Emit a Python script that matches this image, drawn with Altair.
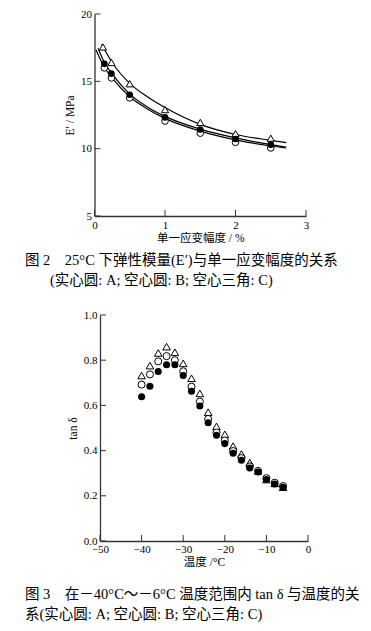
import altair as alt
import pandas as pd

# ---------------- Figure 2 : E' vs strain amplitude ----------------
strain_A = [0.14, 0.24, 0.5, 1.0, 1.5, 2.0, 2.5]
E_A = [16.3, 15.57, 14.0, 12.32, 11.42, 10.72, 10.3]
strain_B = [0.14, 0.24, 0.5, 1.0, 1.5, 2.0, 2.5]
E_B = [16.0, 15.25, 13.77, 12.05, 11.15, 10.47, 10.05]
strain_C = [0.12, 0.24, 0.5, 1.0, 1.5, 2.0, 2.5]
E_C = [17.55, 16.4, 14.82, 12.9, 11.95, 11.12, 10.78]

# fitted curves
curve_A_x = [0.05, 0.14, 0.25, 0.5, 0.75, 1.0, 1.5, 2.0, 2.5, 2.72]
curve_A_y = [17.45, 16.4, 15.55, 14.05, 13.1, 12.4, 11.45, 10.8, 10.3, 10.12]
curve_B_x = [0.02, 0.14, 0.25, 0.5, 0.75, 1.0, 1.5, 2.0, 2.5, 2.72]
curve_B_y = [17.35, 16.05, 15.25, 13.85, 12.95, 12.25, 11.3, 10.65, 10.2, 10.05]
curve_C_x = [0.10, 0.25, 0.5, 0.75, 1.0, 1.5, 2.0, 2.5, 2.72]
curve_C_y = [17.75, 16.4, 14.85, 13.85, 13.05, 11.8, 11.05, 10.62, 10.45]

x1_ticks = [0, 1, 2, 3]
y1_ticks = [5, 10, 15, 20]

# ---------------- Figure 3 : tan delta vs temperature ----------------
temp = [-40, -38, -36, -34, -32, -30, -28, -26, -24, -22, -20, -18, -16, -14, -12, -10, -8, -6]
tan_A = [0.638, 0.685, 0.750, 0.780, 0.780, 0.732, 0.663, 0.597, 0.523, 0.468, 0.431, 0.388,
         0.357, 0.323, 0.305, 0.272, 0.252, 0.238]
tan_B = [0.692, 0.737, 0.795, 0.818, 0.800, 0.751, 0.683, 0.617, 0.540, 0.480, 0.445, 0.398,
         0.367, 0.330, 0.310, 0.278, 0.258, 0.243]
tan_C = [0.732, 0.776, 0.832, 0.860, 0.835, 0.786, 0.720, 0.653, 0.570, 0.507, 0.472, 0.420,
         0.385, 0.347, 0.310, 0.272, 0.255, 0.238]

x2_ticks = [-50, -40, -30, -20, -10, 0]
y2_ticks = [0.0, 0.2, 0.4, 0.6, 0.8, 1.0]

cap2_line1 = "图 2　25°C 下弹性模量(E′)与单一应变幅度的关系"
cap2_line2 = "(实心圆: A; 空心圆: B; 空心三角: C)"
cap3_line1 = "图 3　在－40°C～－6°C 温度范围内 tan δ 与温度的关"
cap3_line2 = "系(实心圆: A; 空心圆: B; 空心三角: C)"

FONT = "Liberation Serif, Noto Sans CJK SC"
SHIFT = 5.5          # figure 2 sits a little left of figure 3
W1, H1 = 206, 202
W2, H2 = 208, 226
TICK = 6
CAP = 14.5

# ---------- build figure 2 ----------
X1 = alt.X("x:Q", scale=alt.Scale(domain=[0, 3], nice=False, zero=False, range=[-SHIFT, W1]),
           axis=alt.Axis(values=x1_ticks, title="单一应变幅度 / %", labelFlush=False,
                         labelPadding=3, titlePadding=2))
Y1 = alt.Y("y:Q", scale=alt.Scale(domain=[5, 20], nice=False, zero=False),
           axis=alt.Axis(values=y1_ticks, title="E′ / MPa", labelPadding=3, titlePadding=5,
                         offset=SHIFT))

curves = pd.concat([
    pd.DataFrame({"x": curve_A_x, "y": curve_A_y, "s": "A"}),
    pd.DataFrame({"x": curve_B_x, "y": curve_B_y, "s": "B"}),
    pd.DataFrame({"x": curve_C_x, "y": curve_C_y, "s": "C"}),
])
c_lines = alt.Chart(curves).mark_line(color="black", strokeWidth=1.2, interpolate="monotone").encode(
    x=X1, y=Y1, detail="s:N")

ytk1 = alt.Chart(pd.DataFrame({"y": y1_ticks})).mark_rule(color="#333", strokeWidth=1).encode(
    y=Y1, x=alt.value(-SHIFT), x2=alt.value(-SHIFT + TICK))
xtk1 = alt.Chart(pd.DataFrame({"x": x1_ticks})).mark_rule(color="#333", strokeWidth=1).encode(
    x=X1, y=alt.value(H1), y2=alt.value(H1 - TICK))

triC = alt.Chart(pd.DataFrame({"x": strain_C, "y": E_C})).mark_point(
    shape="triangle-up", filled=True, fill="white", stroke="black", strokeWidth=1, size=52, opacity=1
).encode(x=X1, y=Y1)
openB = alt.Chart(pd.DataFrame({"x": strain_B, "y": E_B})).mark_point(
    shape="circle", filled=True, fill="white", stroke="black", strokeWidth=1, size=44, opacity=1
).encode(x=X1, y=Y1)
fillA = alt.Chart(pd.DataFrame({"x": strain_A, "y": E_A})).mark_point(
    shape="circle", filled=True, fill="black", size=44, opacity=1
).encode(x=X1, y=Y1)

one = pd.DataFrame({"k": [0]})
cap2a = alt.Chart(one).mark_text(text=cap2_line1, align="left", baseline="middle", font=FONT,
                                 fontSize=CAP, color="black").encode(
    x=alt.value(-75), y=alt.value(H1 + 44.5))
cap2b = alt.Chart(one).mark_text(text=cap2_line2, align="left", baseline="middle", font=FONT,
                                 fontSize=CAP, color="black").encode(
    x=alt.value(-50), y=alt.value(H1 + 64.5))

fig2 = alt.layer(c_lines, ytk1, xtk1, triC, openB, fillA, cap2a, cap2b).properties(width=W1, height=H1)

# ---------- build figure 3 ----------
X2 = alt.X("x:Q", scale=alt.Scale(domain=[-50, 0], nice=False, zero=False),
           axis=alt.Axis(values=x2_ticks, title="温度 /°C", labelFlush=False,
                         labelPadding=2, titlePadding=2))
Y2 = alt.Y("y:Q", scale=alt.Scale(domain=[0, 1], nice=False, zero=False),
           axis=alt.Axis(values=y2_ticks, format=".1f", title="tan δ", labelPadding=3, titlePadding=5))

ytk2 = alt.Chart(pd.DataFrame({"y": y2_ticks})).mark_rule(color="#333", strokeWidth=1).encode(
    y=Y2, x=alt.value(0), x2=alt.value(TICK))
xtk2 = alt.Chart(pd.DataFrame({"x": x2_ticks})).mark_rule(color="#333", strokeWidth=1).encode(
    x=X2, y=alt.value(H2), y2=alt.value(H2 - TICK))

triC2 = alt.Chart(pd.DataFrame({"x": temp, "y": tan_C})).mark_point(
    shape="triangle-up", filled=True, fill="white", stroke="black", strokeWidth=1, size=58, opacity=1
).encode(x=X2, y=Y2)
openB2 = alt.Chart(pd.DataFrame({"x": temp, "y": tan_B})).mark_point(
    shape="circle", filled=True, fill="white", stroke="black", strokeWidth=1, size=50, opacity=1
).encode(x=X2, y=Y2)
fillA2 = alt.Chart(pd.DataFrame({"x": temp, "y": tan_A})).mark_point(
    shape="circle", filled=True, fill="black", size=50, opacity=1
).encode(x=X2, y=Y2)

cap3a = alt.Chart(one).mark_text(text=cap3_line1, align="left", baseline="middle", font=FONT,
                                 fontSize=CAP, color="black").encode(
    x=alt.value(-75), y=alt.value(H2 + 54))
cap3b = alt.Chart(one).mark_text(text=cap3_line2, align="left", baseline="middle", font=FONT,
                                 fontSize=CAP, color="black").encode(
    x=alt.value(-75), y=alt.value(H2 + 74))

fig3 = alt.layer(ytk2, xtk2, triC2, openB2, fillA2, cap3a, cap3b).properties(width=W2, height=H2)

chart = alt.vconcat(fig2, fig3, spacing=22).properties(
    padding={"left": 17, "top": 0, "right": 0, "bottom": 0}
).configure_view(stroke=None).configure_axis(
    grid=False, ticks=False, domainColor="#333", domainWidth=1.3,
    labelFont=FONT, labelFontSize=11, labelColor="black",
    titleFont=FONT, titleFontSize=11.5, titleFontWeight="normal", titleColor="black"
)

chart.save("out.html", embed_options={"renderer": "svg", "actions": False})
